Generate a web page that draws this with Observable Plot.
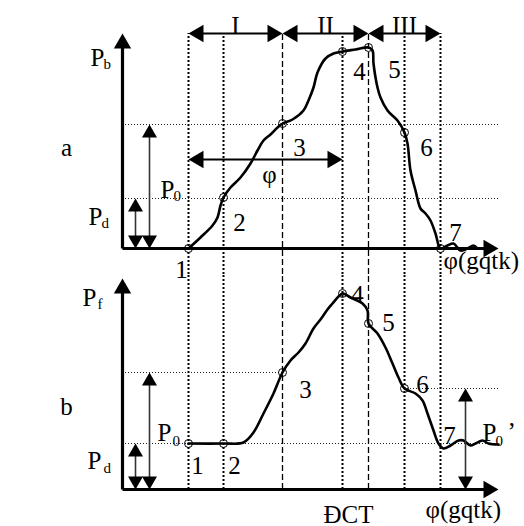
<!DOCTYPE html>
<html><head><meta charset="utf-8">
<script src="https://cdn.jsdelivr.net/npm/d3@7"></script>
<script src="https://cdn.jsdelivr.net/npm/@observablehq/plot@0.6"></script>
<style>html,body{margin:0;padding:0;background:#fff}</style>
</head><body><div id="chart"></div>
<script>
// ---- data (φ along x, pressure along y, arbitrary units) ----
const panels = ["a", "b"];
const stateX = [66, 101, 160, 220, 246, 282, 318];           // states 1..7
const stateLine = ["dotted","dotted","dashed","dotted","dashed","dotted","dotted"];
const pbAtState = [0, 51, 125, 197, 201, 116, 0];            // panel a, states 1..7
const pfAtState = [46, 46, 117, 196, 166, 101];              // panel b, states 1..6
const pbCurve = [[66,0],[78,11],[90,23],[95,31],[98,43],[101,51],[108,61],[118,71],[128,85],[135,98],[141,108],[148,114],[155,121],[160,125],[170,129],[181,138],[186,148],[191,161],[195,176],[203,190],[211,195],[220,197],[233,199],[246,201],[250,198],[251,185],[255,161],[258,151],[265,138],[275,128],[282,116],[285,105],[288,78],[293,58],[298,40],[303,35],[308,28],[313,15],[318,0],[325,3],[331,5],[338,-2],[345,0],[351,3],[355,0]];
const pfCurve = [[66,46],[101,46],[121,47],[131,57],[141,76],[151,96],[160,117],[168,129],[176,137],[183,146],[191,161],[198,170],[205,180],[210,186],[216,193],[220,196],[228,192],[240,186],[245,179],[246,166],[255,156],[263,142],[270,126],[276,112],[282,101],[293,96],[300,89],[305,76],[311,59],[316,46],[321,41],[328,44],[336,49],[341,49],[348,44],[353,46],[360,49],[366,46],[376,45]];
const PdA = 50, P0A = 124, PdB = 46, P0B = 117, P0pB = 101;
const axisTop = {a: 215, b: 211};
const axisEnd = 376;
const phaseNames = ["I", "II", "III"];
const phaseBounds = [66, 160, 246, 318];
const phaseLevel = 215;
const phiArrow = [66, 220, 89];

const labels = [
  {panel:"a", x:-32, y:183, text:"P", anchor:"start"},
  {panel:"a", x:-56, y:93, text:"a", anchor:"middle"},
  {panel:"a", x:38, y:51, text:"P", anchor:"start"},
  {panel:"a", x:-34, y:24, text:"P", anchor:"start"},
  {panel:"a", x:59, y:-29, text:"1", anchor:"middle"},
  {panel:"a", x:117, y:18, text:"2", anchor:"middle"},
  {panel:"a", x:147, y:66, text:"φ", anchor:"middle"},
  {panel:"a", x:177, y:93, text:"3", anchor:"middle"},
  {panel:"a", x:237, y:169, text:"4", anchor:"middle"},
  {panel:"a", x:272, y:171, text:"5", anchor:"middle"},
  {panel:"a", x:304, y:93, text:"6", anchor:"middle"},
  {panel:"a", x:333, y:8, text:"7", anchor:"middle"},
  {panel:"a", x:321, y:-20, text:"φ(gqtk)", anchor:"start"},
  {panel:"b", x:-40, y:184, text:"P", anchor:"start"},
  {panel:"b", x:-56, y:75, text:"b", anchor:"middle"},
  {panel:"b", x:35, y:49, text:"P", anchor:"start"},
  {panel:"b", x:-35, y:21, text:"P", anchor:"start"},
  {panel:"b", x:75, y:16, text:"1", anchor:"middle"},
  {panel:"b", x:112, y:16, text:"2", anchor:"middle"},
  {panel:"b", x:183, y:92, text:"3", anchor:"middle"},
  {panel:"b", x:235, y:187, text:"4", anchor:"middle"},
  {panel:"b", x:266, y:159, text:"5", anchor:"middle"},
  {panel:"b", x:300, y:97, text:"6", anchor:"middle"},
  {panel:"b", x:327, y:46, text:"7", anchor:"middle"},
  {panel:"b", x:360, y:49, text:"P", anchor:"start"},
  {panel:"b", x:385, y:50, text:"’", anchor:"start"},
  {panel:"b", x:226, y:-33, text:"ĐCT", anchor:"middle"},
  {panel:"b", x:303, y:-28, text:"φ(gqtk)", anchor:"start"}
];
const subLabels = [
  {panel:"a", x:-19, y:180, text:"b"},
  {panel:"a", x:51, y:48, text:"0"},
  {panel:"a", x:-21, y:21, text:"d"},
  {panel:"b", x:-25, y:181, text:"f"},
  {panel:"b", x:50, y:44, text:"0"},
  {panel:"b", x:-19, y:17, text:"d"},
  {panel:"b", x:373, y:44, text:"0"}
];

// ---- derived tables ----
const curveData = [
  ...pbCurve.map(([x, y]) => ({panel: "a", x, y})),
  ...pfCurve.map(([x, y]) => ({panel: "b", x, y}))
];
const stateData = [
  ...pbAtState.map((y, i) => ({panel: "a", x: stateX[i], y})),
  ...pfAtState.map((y, i) => ({panel: "b", x: stateX[i], y}))
];
const guides = panels.flatMap(p => stateX.map((x, i) => ({panel: p, x, kind: stateLine[i], y1: p === "a" ? -26 : 0, y2: 215})));
const hGuides = [
  {panel:"a", y:P0A, x1:0, x2:378},
  {panel:"a", y:PdA, x1:0, x2:378},
  {panel:"b", y:P0B, x1:0, x2:stateX[2]},
  {panel:"b", y:PdB, x1:0, x2:378},
  {panel:"b", y:P0pB, x1:stateX[5], x2:378}
];
const arrows = [];
for (const p of panels) {
  arrows.push({panel:p, x1:0, y1:0, x2:0, y2:axisTop[p], kind:"axis", both:false});
  arrows.push({panel:p, x1:0, y1:0, x2:axisEnd, y2:0, kind:"axis", both:false});
}
phaseNames.forEach((n, i) => arrows.push({panel:"a", x1:phaseBounds[i], y1:phaseLevel, x2:phaseBounds[i+1], y2:phaseLevel, kind:"phase", both:true}));
arrows.push({panel:"a", x1:phiArrow[0], y1:phiArrow[2], x2:phiArrow[1], y2:phiArrow[2], kind:"phase", both:true});
arrows.push({panel:"a", x1:13, y1:0, x2:13, y2:PdA, kind:"level", both:true});
arrows.push({panel:"a", x1:27, y1:0, x2:27, y2:P0A, kind:"level", both:true});
arrows.push({panel:"b", x1:13, y1:0, x2:13, y2:PdB, kind:"level", both:true});
arrows.push({panel:"b", x1:27, y1:0, x2:27, y2:P0B, kind:"level", both:true});
arrows.push({panel:"b", x1:343, y1:0, x2:343, y2:P0pB, kind:"level", both:true});

function dirOf(ax, ay, bx, by) { // direction pointing from a to b
  if (bx > ax) return "right"; if (bx < ax) return "left"; if (by > ay) return "up"; return "down";
}
const heads = [];
const shorten = {axis: 8, phase: 8, level: 7};
const lines = arrows.map(a => {
  const s = shorten[a.kind];
  const dEnd = dirOf(a.x1, a.y1, a.x2, a.y2);
  heads.push({panel: a.panel, x: a.x2, y: a.y2, dir: dEnd, big: a.kind !== "level"});
  let {x1, y1, x2, y2} = a;
  const ux = Math.sign(x2 - x1), uy = Math.sign(y2 - y1);
  x2 -= ux * s; y2 -= uy * s;
  if (a.both) {
    heads.push({panel: a.panel, x: a.x1, y: a.y1, dir: dirOf(a.x2, a.y2, a.x1, a.y1), big: a.kind !== "level"});
    x1 += ux * s; y1 += uy * s;
  }
  return {panel: a.panel, kind: a.kind, x1, y1, x2, y2};
});

const font = "'Liberation Serif', 'Times New Roman', serif";
const rot = {up: 0, right: 90, down: 180, left: 270};
const headMarks = [];
for (const big of [true, false]) {
  const off = big ? 10 : 8.7, r = big ? 6.43 : 5.57;
  for (const dir of ["up", "right", "down", "left"]) {
    const d = heads.filter(h => h.big === big && h.dir === dir);
    if (!d.length) continue;
    headMarks.push(Plot.dot(d, {
      x: "x", y: "y", fy: "panel", symbol: "triangle", r, fill: "black", stroke: "none",
      rotate: rot[dir],
      dx: dir === "right" ? -off : dir === "left" ? off : 0,
      dy: dir === "up" ? off : dir === "down" ? -off : 0
    }));
  }
}

const chart = Plot.plot({
  width: 524, height: 526,
  marginLeft: 122, marginRight: 22, marginTop: 33, marginBottom: 37,
  x: {domain: [0, 380], axis: null},
  y: {domain: [0, 215], axis: null},
  fy: {domain: panels, axis: null, paddingInner: 26 / 241, paddingOuter: 0},
  facet: {marginTop: 0, marginRight: 0, marginBottom: 0, marginLeft: 0},
  style: {background: "white", overflow: "visible", fontFamily: font},
  marks: [
    Plot.ruleY(hGuides, {y: "y", x1: "x1", x2: "x2", fy: "panel", stroke: "#222", strokeWidth: 1, strokeDasharray: "1,2"}),
    Plot.ruleX(guides.filter(g => g.kind === "dotted"), {x: "x", y1: "y1", y2: "y2", fy: "panel", stroke: "black", strokeWidth: 2, strokeDasharray: "2,2"}),
    Plot.ruleX(guides.filter(g => g.kind === "dashed"), {x: "x", y1: "y1", y2: "y2", fy: "panel", stroke: "black", strokeWidth: 1.3, strokeDasharray: "6,3"}),
    Plot.line(curveData, {x: "x", y: "y", z: "panel", fy: "panel", curve: "catmull-rom", stroke: "black", strokeWidth: 2.6}),
    Plot.link(lines.filter(l => l.kind === "axis"), {x1: "x1", y1: "y1", x2: "x2", y2: "y2", fy: "panel", stroke: "black", strokeWidth: 3.2}),
    Plot.link(lines.filter(l => l.kind === "phase"), {x1: "x1", y1: "y1", x2: "x2", y2: "y2", fy: "panel", stroke: "black", strokeWidth: 1.8}),
    Plot.link(lines.filter(l => l.kind === "level"), {x1: "x1", y1: "y1", x2: "x2", y2: "y2", fy: "panel", stroke: "#333", strokeWidth: 1.6}),
    ...headMarks,
    Plot.dot(stateData, {x: "x", y: "y", fy: "panel", r: 4, stroke: "black", strokeWidth: 1, fill: "none"}),
    Plot.text(phaseNames.map((n, i) => ({panel: "a", x: (phaseBounds[i] + phaseBounds[i+1]) / 2, text: n})),
      {x: "x", y: () => phaseLevel, fy: "panel", text: "text", textAnchor: "middle", lineAnchor: "bottom", fontSize: 25, fontFamily: font, fill: "black"}),
    Plot.text(labels.filter(l => l.anchor === "start"), {x: "x", y: "y", fy: "panel", text: "text", textAnchor: "start", lineAnchor: "bottom", fontSize: 25, fontFamily: font, fill: "black"}),
    Plot.text(labels.filter(l => l.anchor === "middle"), {x: "x", y: "y", fy: "panel", text: "text", textAnchor: "middle", lineAnchor: "bottom", fontSize: 25, fontFamily: font, fill: "black"}),
    Plot.text(subLabels, {x: "x", y: "y", fy: "panel", text: "text", textAnchor: "start", lineAnchor: "bottom", fontSize: 15, fontFamily: font, fill: "black"})
  ]
});
document.getElementById("chart").appendChild(chart);
</script>
</body></html>
